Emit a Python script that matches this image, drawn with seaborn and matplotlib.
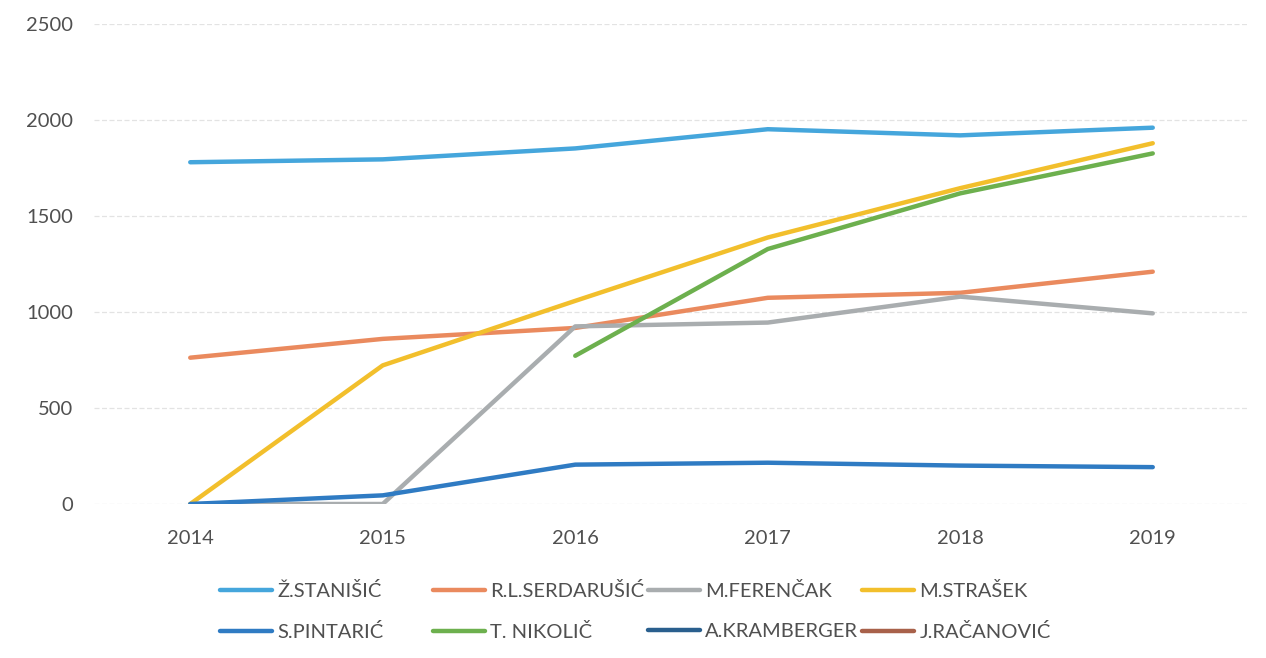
import numpy as np
import pandas as pd
import matplotlib
matplotlib.use("Agg")
import matplotlib.pyplot as plt
from matplotlib.lines import Line2D
import seaborn as sns

years = [2014, 2015, 2016, 2017, 2018, 2019]
names = ["Ž.STANIŠIĆ", "R.L.SERDARUŠIĆ", "M.FERENČAK", "M.STRAŠEK",
         "S.PINTARIĆ", "T. NIKOLIČ", "A.KRAMBERGER", "J.RAČANOVIĆ"]

stanisic = [1780, 1795, 1852, 1952, 1920, 1960]
serdarusic = [762, 860, 917, 1074, 1100, 1210]
ferencak = [0, 0, 925, 945, 1080, 993]
strasek = [0, 722, 1058, 1388, 1645, 1879]
pintaric = [0, 45, 205, 215, 200, 192]
nikolic = [np.nan, np.nan, 772, 1328, 1618, 1826]
kramberger = [np.nan] * 6
racanovic = [np.nan] * 6

series = [stanisic, serdarusic, ferencak, strasek, pintaric, nikolic, kramberger, racanovic]
colors = ["#45A6DC", "#EA8A5E", "#A9ADAF", "#F2BF2C", "#2F7BC3", "#6DB04E", "#2A5F8E", "#A8614A"]
palette = dict(zip(names, colors))

yticks = [0, 500, 1000, 1500, 2000, 2500]

df = pd.DataFrame({
    "year": np.tile(years, len(names)),
    "value": np.concatenate([np.array(s, dtype=float) for s in series]),
    "name": np.repeat(names, len(years)),
})

sns.set_style("white")
plt.rcParams["font.family"] = ["Lato", "DejaVu Sans"]

fig = plt.figure(figsize=(12.66, 6.58), dpi=100)
ax = fig.add_axes([94 / 1266, 1 - 504 / 658, (1249 - 94) / 1266, (504 - 24) / 658])

plot_df = df.dropna()
sns.lineplot(data=plot_df, x="year", y="value", hue="name", hue_order=names,
             palette=palette, linewidth=3.2, legend=False, ax=ax, sort=True,
             estimator=None)
for ln in ax.get_lines():
    ln.set_solid_capstyle("round")
    ln.set_solid_joinstyle("round")

ax.set_xlim(2013.5, 2019.5)
ax.set_ylim(0, 2500)
ax.set_yticks(yticks)
ax.set_xticks(years)
ax.set_yticklabels([str(v) for v in yticks])
ax.set_xticklabels([str(v) for v in years])
ax.set_xlabel("")
ax.set_ylabel("")
ax.tick_params(axis="y", length=0, pad=15, labelsize=14.5, labelcolor="#505050")
ax.tick_params(axis="x", length=0, pad=19, labelsize=14.5, labelcolor="#505050")
ax.grid(axis="y", color="#E3E3E3", linewidth=0.9, linestyle=(0, (4, 2)))
ax.grid(axis="x", visible=False)
ax.set_axisbelow(True)
for sp in ax.spines.values():
    sp.set_visible(False)

# legend: 4 columns x 2 rows, evenly spaced like the original
col_x = [220, 433, 648, 862]
for c in range(4):
    handles = []
    labels = []
    for r in range(2):
        idx = r * 4 + c
        handles.append(Line2D([], [], color=colors[idx], linewidth=3.2, solid_capstyle="round"))
        labels.append(names[idx])
    leg = fig.legend(handles, labels, loc="upper left",
                     bbox_to_anchor=(col_x[c] / 1266, 1 - 582 / 658),
                     frameon=False, fontsize=14.5, handlelength=2.6, handletextpad=0.25,
                     labelspacing=1.15, borderaxespad=0, borderpad=0)
    for t in leg.get_texts():
        t.set_color("#505050")

fig.savefig("out.png", dpi=100, facecolor="white")
